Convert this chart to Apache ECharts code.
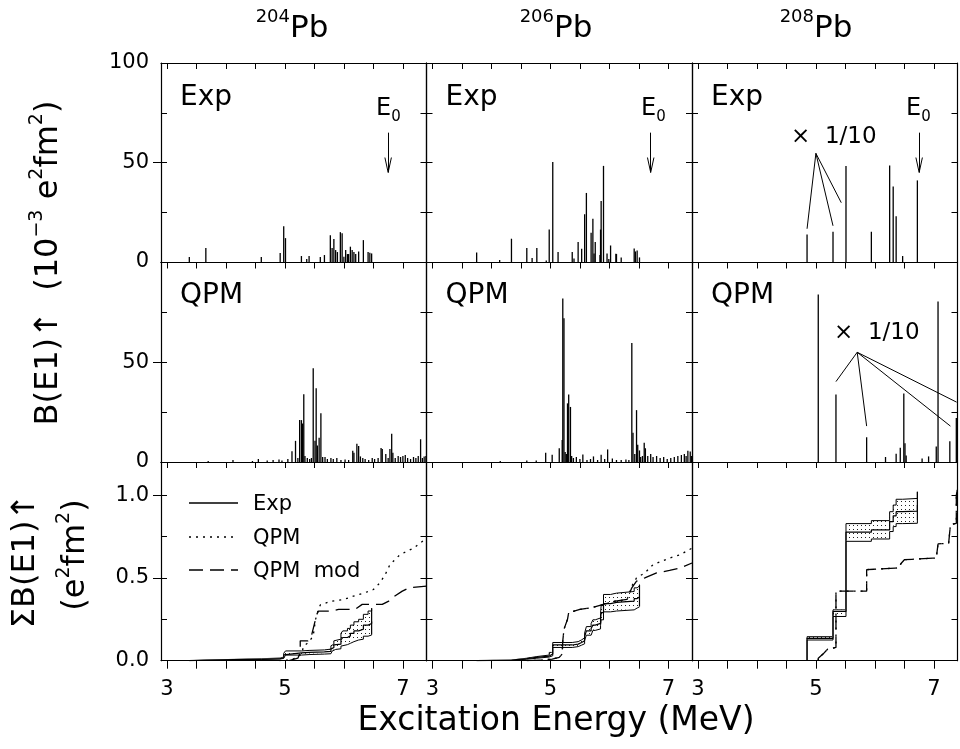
<!DOCTYPE html>
<html><head><meta charset="utf-8">
<script src="https://cdn.jsdelivr.net/npm/echarts@6/dist/echarts.min.js"></script>
<style>html,body{margin:0;padding:0;background:#fff}#c{width:960px;height:749px}</style>
</head><body><div id="c"></div>
<script>
// ---------- tick / label values ----------
const isotopes = ['204', '206', '208'];
const xTickValues = [3, 3.5, 4, 4.5, 5, 5.5, 6, 6.5, 7];
const xLabelValues = [3, 5, 7];
const yTickValuesB = [25, 50, 75];
const yLabelValuesExp = [0, 50, 100];
const yLabelValuesQpm = [0, 50];
const yTickValuesSum = [0.25, 0.5, 0.75, 1.0];
const yLabelValuesSum = [0, 0.5, 1.0];

// ---------- B(E1) spikes, [energy MeV, B(E1) 1e-3 e2fm2] ----------
const exp204 = [[3.38,2.5],[3.66,7],[4.60,2.5],[4.92,4.5],[4.98,18],[5.01,12],[5.28,3],[5.37,1.5],[5.41,3],[5.60,2.5],[5.67,3.5],[5.77,13.5],[5.80,7],[5.83,11.5],[5.86,6],[5.89,5],[5.94,15],[5.97,14.5],[6.00,2.7],[6.03,6],[6.06,4],[6.08,4],[6.11,7.7],[6.14,6],[6.17,5],[6.20,4],[6.25,5.3],[6.33,11],[6.41,5],[6.44,4.7],[6.47,4.3]];
const exp206 = [[3.75,4.8],[4.14,1],[4.34,11.7],[4.60,7],[4.69,2],[4.77,7],[4.93,0.7],[4.98,16.3],[5.04,50.3],[5.13,5],[5.37,5],[5.40,1.7],[5.47,10],[5.53,6.7],[5.58,24],[5.61,34.7],[5.69,14.7],[5.72,21.7],[5.74,4.3],[5.76,10],[5.84,3.5],[5.85,16.3],[5.86,30.7],[5.90,48.3],[5.96,4.3],[5.99,1.5],[6.02,8.3],[6.11,4.2],[6.12,4],[6.20,2.3],[6.42,6.8],[6.44,5.3],[6.47,5.8],[6.51,2.3]];
const exp208 = [[4.85,13.8],[5.29,15.2],[5.51,48.2],[5.94,15.2],[6.25,48.5],[6.31,38],[6.36,23],[6.47,3],[6.72,41]];
const qpm204 = [[3.70,0.5],[4.12,1.0],[4.45,0.5],[4.55,1.5],[4.70,0.8],[4.80,1.0],[4.90,1.2],[4.95,0.8],[5.05,1.5],[5.12,5.4],[5.18,10.6],[5.22,2.0],[5.25,21],[5.28,21],[5.30,19.3],[5.32,34],[5.34,3],[5.38,2],[5.42,1.5],[5.45,2],[5.48,47],[5.51,10.7],[5.53,37],[5.55,8.3],[5.58,12.2],[5.61,24.4],[5.64,2.5],[5.68,2.5],[5.72,1.5],[5.78,2],[5.82,1.5],[5.88,2],[5.95,1],[6.02,1.2],[6.08,1],[6.15,5.6],[6.17,4.6],[6.22,9.2],[6.25,8],[6.28,2.8],[6.32,2],[6.36,1.5],[6.42,1],[6.48,2],[6.52,1.5],[6.58,2],[6.63,7],[6.65,6.5],[6.71,4],[6.75,2],[6.78,6.5],[6.81,14.2],[6.83,4.6],[6.87,2],[6.92,3],[6.96,2.5],[7.00,3],[7.04,3.5],[7.08,2],[7.13,1.5],[7.18,2.5],[7.22,2],[7.26,3],[7.30,11.4],[7.33,2],[7.36,2.8],[7.39,3]];
const qpm206 = [[4.15,0.5],[4.60,0.7],[4.76,0.8],[4.92,4.6],[5.03,3.6],[5.15,6.9],[5.20,11],[5.21,82],[5.23,72],[5.25,5],[5.27,4],[5.29,29.4],[5.31,33.8],[5.34,27.6],[5.36,3],[5.39,2],[5.44,2.5],[5.50,1.5],[5.55,3.8],[5.62,1],[5.68,1.5],[5.73,2.8],[5.80,1],[5.86,3.6],[5.92,1.5],[5.97,6.3],[6.05,1.8],[6.12,1],[6.20,1],[6.28,1.2],[6.33,1],[6.38,59.7],[6.40,14.7],[6.43,4],[6.46,26],[6.48,8.7],[6.51,5.8],[6.53,2.5],[6.56,3],[6.59,9.6],[6.61,6.9],[6.65,3],[6.70,4],[6.74,2.5],[6.80,3],[6.86,2],[6.92,2.5],[6.98,1.5],[7.04,2],[7.10,2.5],[7.16,3],[7.22,3.5],[7.27,4],[7.30,3],[7.33,5.6],[7.37,5.3],[7.39,3]];
const qpm208 = [[5.04,84],[5.34,33.8],[5.86,12.4],[6.18,2.5],[6.36,4.1],[6.43,7.1],[6.49,34.3],[6.51,9.4],[6.53,3.3],[6.80,1.8],[6.91,2.8],[7.04,7.8],[7.07,80.4],[7.27,10.4],[7.38,22]];

// ---------- running sums, [energy MeV, sum e2fm2] ----------
const sumExp204   = [[3.38,0],[3.38,0.003],[3.66,0.01],[4.60,0.013],[4.92,0.018],[4.98,0.035],[5.01,0.047],[5.28,0.05],[5.41,0.053],[5.67,0.056],[5.78,0.07],[5.80,0.08],[5.83,0.095],[5.86,0.10],[5.95,0.125],[5.98,0.14],[6.06,0.15],[6.11,0.165],[6.17,0.18],[6.25,0.19],[6.33,0.215],[6.41,0.225],[6.47,0.236]];
const sumExpHi204 = [[3.38,0],[3.38,0.004],[3.66,0.012],[4.60,0.016],[4.92,0.022],[4.98,0.045],[5.01,0.059],[5.28,0.062],[5.41,0.065],[5.67,0.07],[5.78,0.09],[5.80,0.10],[5.83,0.12],[5.86,0.13],[5.95,0.165],[5.98,0.18],[6.06,0.195],[6.11,0.215],[6.17,0.235],[6.25,0.25],[6.33,0.28],[6.41,0.30],[6.47,0.317]];
const sumExpLo204 = [[3.38,0],[3.38,0.002],[3.66,0.007],[4.60,0.01],[4.92,0.014],[4.98,0.026],[5.01,0.034],[5.28,0.037],[5.41,0.04],[5.67,0.042],[5.78,0.052],[5.80,0.058],[5.83,0.068],[5.86,0.072],[5.95,0.088],[5.98,0.097],[6.06,0.105],[6.11,0.115],[6.17,0.125],[6.25,0.13],[6.33,0.148],[6.41,0.155],[6.47,0.16]];
const sumQpm204    = [[4.90,0],[5.10,0.005],[5.20,0.02],[5.28,0.04],[5.32,0.09],[5.40,0.11],[5.48,0.15],[5.52,0.25],[5.56,0.30],[5.60,0.337],[5.77,0.358],[6.00,0.37],[6.16,0.39],[6.35,0.41],[6.50,0.43],[6.61,0.47],[6.70,0.52],[6.78,0.58],[6.95,0.64],[7.18,0.68],[7.40,0.74]];
const sumQpmMod204 = [[5.07,0],[5.22,0.015],[5.26,0.05],[5.26,0.12],[5.39,0.12],[5.45,0.15],[5.54,0.28],[5.57,0.30],[5.80,0.30],[5.91,0.31],[6.19,0.31],[6.31,0.34],[6.65,0.34],[6.76,0.36],[6.82,0.38],[6.99,0.42],[7.10,0.44],[7.40,0.45]];

const sumExp206   = [[3.75,0],[3.75,0.003],[4.34,0.012],[4.60,0.02],[4.77,0.028],[4.98,0.04],[5.04,0.095],[5.37,0.10],[5.47,0.11],[5.53,0.12],[5.58,0.145],[5.61,0.18],[5.69,0.195],[5.72,0.215],[5.76,0.225],[5.85,0.25],[5.86,0.29],[5.90,0.345],[6.02,0.352],[6.12,0.36],[6.42,0.375],[6.47,0.385],[6.51,0.388]];
const sumExpHi206 = [[3.75,0],[3.75,0.004],[4.34,0.015],[4.60,0.025],[4.77,0.034],[4.98,0.05],[5.04,0.11],[5.37,0.115],[5.47,0.126],[5.53,0.138],[5.58,0.167],[5.61,0.206],[5.69,0.224],[5.72,0.247],[5.76,0.258],[5.85,0.286],[5.86,0.333],[5.90,0.40],[6.02,0.408],[6.12,0.418],[6.42,0.44],[6.47,0.452],[6.51,0.459]];
const sumExpLo206 = [[3.75,0],[3.75,0.002],[4.34,0.009],[4.60,0.015],[4.77,0.022],[4.98,0.03],[5.04,0.08],[5.37,0.085],[5.47,0.094],[5.53,0.102],[5.58,0.123],[5.61,0.154],[5.69,0.166],[5.72,0.183],[5.76,0.192],[5.85,0.214],[5.86,0.247],[5.90,0.295],[6.02,0.30],[6.12,0.307],[6.42,0.318],[6.47,0.325],[6.51,0.327]];
const sumQpm206    = [[4.60,0],[4.90,0.005],[5.03,0.01],[5.15,0.02],[5.20,0.04],[5.21,0.12],[5.23,0.19],[5.29,0.25],[5.31,0.29],[5.34,0.30],[5.50,0.31],[5.70,0.32],[5.90,0.34],[6.10,0.36],[6.30,0.37],[6.38,0.45],[6.46,0.50],[6.60,0.53],[6.74,0.58],[7.02,0.62],[7.20,0.64],[7.40,0.68]];
const sumQpmMod206 = [[4.60,0],[4.90,0.005],[5.03,0.01],[5.15,0.02],[5.20,0.04],[5.21,0.12],[5.23,0.19],[5.29,0.25],[5.31,0.29],[5.34,0.30],[5.50,0.31],[5.70,0.32],[5.90,0.34],[6.10,0.36],[6.30,0.37],[6.38,0.44],[6.46,0.48],[6.60,0.50],[6.80,0.53],[7.02,0.545],[7.20,0.56],[7.40,0.59]];

const sumExp208   = [[4.85,0],[4.85,0.135],[5.29,0.297],[5.51,0.776],[5.94,0.79],[6.25,0.84],[6.31,0.875],[6.36,0.90],[6.47,0.903],[6.72,0.94]];
const sumExpHi208 = [[4.85,0],[4.85,0.145],[5.29,0.307],[5.51,0.828],[5.94,0.846],[6.25,0.90],[6.31,0.94],[6.36,0.975],[6.47,0.98],[6.72,1.02]];
const sumExpLo208 = [[4.85,0],[4.85,0.125],[5.29,0.267],[5.51,0.721],[5.94,0.735],[6.25,0.78],[6.31,0.81],[6.36,0.828],[6.47,0.83],[6.72,0.85]];
const sumQpm208    = [[5.04,0],[5.04,0.015],[5.12,0.04],[5.20,0.07],[5.34,0.08],[5.34,0.42],[5.86,0.42],[5.86,0.55],[6.39,0.56],[6.45,0.59],[6.50,0.61],[7.04,0.62],[7.07,0.62],[7.07,0.705],[7.25,0.71],[7.28,0.71],[7.28,0.82],[7.38,0.83],[7.38,1.0],[7.40,1.04]];
const sumQpmMod208 = sumQpm208;

// ---------- annotations (data coordinates) ----------
const e0Energy = [6.75, 6.70, 6.75];
const e0ArrowFrom = 65, e0ArrowTo = 45;
const scaleHubExp = [5.0, 54.6];
const scaleEndsExp = [[4.85,16.7],[5.29,18.2],[5.43,29.8]];
const scaleHubQpm = [5.70, 55.0];
const scaleEndsQpm = [[5.34,40.3],[5.86,18],[7.28,18],[7.385,30]];

// ---------- layout ----------
const FONT = '"DejaVu Sans", "Liberation Sans", sans-serif';
const colLeft = [161, 426.5, 692], colW = 265.5;
const rowTop = [63, 262.5, 462], rowH = [199, 199.5, 198.7];
const BLACK = '#000';

const expSets = [exp204, exp206, exp208];
const qpmSets = [qpm204, qpm206, qpm208];
const sumSets = [
  {c: sumExp204, hi: sumExpHi204, lo: sumExpLo204, q: sumQpm204, qm: sumQpmMod204},
  {c: sumExp206, hi: sumExpHi206, lo: sumExpLo206, q: sumQpm206, qm: sumQpmMod206},
  {c: sumExp208, hi: sumExpHi208, lo: sumExpLo208, q: sumQpm208, qm: sumQpmMod208}
];

// dotted fill pattern
const pc = document.createElement('canvas'); pc.width = 4; pc.height = 4;
const pctx = pc.getContext('2d'); pctx.fillStyle = '#222'; pctx.fillRect(1, 1, 1, 1);

const grids = [], xAxes = [], yAxes = [], series = [];
const xIdx = [], yIdx = [];
const axisLineStyle = {color: BLACK, width: 1.2};
for (let r = 0; r < 3; r++) {
  for (let c = 0; c < 3; c++) {
    const g = r * 3 + c;
    grids.push({left: colLeft[c], top: rowTop[r], width: colW, height: rowH[r]});
    const yMax = r < 2 ? 100 : 1.2;
    xIdx[g] = xAxes.length;
    xAxes.push({gridIndex: g, type: 'value', min: 2.9, max: 7.4, position: 'bottom', z: 5,
      axisLine: {show: true, onZero: false, lineStyle: axisLineStyle},
      axisTick: {show: r === 2, inside: false, length: 8, customValues: xTickValues, lineStyle: {color: BLACK, width: 1}},
      axisLabel: {show: r === 2, customValues: xLabelValues, margin: 18, fontSize: 21, color: BLACK, fontFamily: FONT},
      splitLine: {show: false}});
    xAxes.push({gridIndex: g, type: 'value', min: 2.9, max: 7.4, position: 'top', z: 5,
      axisLine: {show: true, onZero: false, lineStyle: axisLineStyle},
      axisTick: {show: true, inside: true, length: 6, customValues: xTickValues, lineStyle: {color: BLACK, width: 1}},
      axisLabel: {show: false}, splitLine: {show: false}});
    const ticks = r < 2 ? yTickValuesB : yTickValuesSum;
    const labels = r === 0 ? yLabelValuesExp : (r === 1 ? yLabelValuesQpm : yLabelValuesSum);
    yIdx[g] = yAxes.length;
    yAxes.push({gridIndex: g, type: 'value', min: 0, max: yMax, position: 'left', z: 5,
      axisLine: {show: true, onZero: false, lineStyle: axisLineStyle},
      axisTick: {show: true, inside: true, length: 6, customValues: ticks, lineStyle: {color: BLACK, width: 1}},
      axisLabel: {show: c === 0, customValues: labels, margin: 12, fontSize: 21, color: BLACK, fontFamily: FONT,
        showMinLabel: true, showMaxLabel: true,
        formatter: v => r === 2 ? v.toFixed(1) : String(v)},
      splitLine: {show: false}});
    yAxes.push({gridIndex: g, type: 'value', min: 0, max: yMax, position: 'right', z: 5,
      axisLine: {show: true, onZero: false, lineStyle: axisLineStyle},
      axisTick: {show: true, inside: true, length: 6, customValues: ticks, lineStyle: {color: BLACK, width: 1}},
      axisLabel: {show: false}, splitLine: {show: false}});
    if (c === 0) {
      const major = labels.filter(v => v > 0 && v < yMax);
      yAxes.push({gridIndex: g, type: 'value', min: 0, max: yMax, position: 'left', z: 5,
        axisLine: {show: false, onZero: false},
        axisTick: {show: true, inside: false, length: 8, customValues: major, lineStyle: {color: BLACK, width: 1}},
        axisLabel: {show: false}, splitLine: {show: false}});
    }
  }
}

function seg(a, b) { return [{coord: a}, {coord: b}]; }
function markLines(list) {
  return {silent: true, animation: false, symbol: ['none', 'none'], label: {show: false},
    lineStyle: {type: 'solid', color: BLACK, width: 1}, data: list};
}

// spike panels
for (let r = 0; r < 2; r++) {
  for (let c = 0; c < 3; c++) {
    const g = r * 3 + c;
    const s = {type: 'bar', xAxisIndex: xIdx[g], yAxisIndex: yIdx[g], barWidth: 1.3,
      data: (r === 0 ? expSets : qpmSets)[c], itemStyle: {color: BLACK}, animation: false, silent: true};
    const ml = [];
    if (r === 0) {
      const e = e0Energy[c];
      ml.push(seg([e, e0ArrowFrom], [e, e0ArrowTo]));
      ml.push(seg([e - 0.055, e0ArrowTo + 7.5], [e, e0ArrowTo]));
      ml.push(seg([e + 0.055, e0ArrowTo + 7.5], [e, e0ArrowTo]));
      if (c === 2) scaleEndsExp.forEach(p => ml.push(seg(scaleHubExp, p)));
    }
    if (r === 1 && c === 2) scaleEndsQpm.forEach(p => ml.push(seg(scaleHubQpm, p)));
    if (ml.length) s.markLine = markLines(ml);
    series.push(s);
  }
}

// running-sum panels
for (let c = 0; c < 3; c++) {
  const g = 6 + c, d = sumSets[c];
  const base = {type: 'line', xAxisIndex: xIdx[g], yAxisIndex: yIdx[g], showSymbol: false, symbol: 'none',
    animation: false, silent: true};
  const last = d.c.length - 1;
  // dotted band: upper area with pattern, masked below the lower curve with white
  series.push(Object.assign({}, base, {data: d.hi, step: 'end', z: 1,
    lineStyle: {color: BLACK, width: 1}, areaStyle: {color: {image: pc, repeat: 'repeat'}, opacity: 1}}));
  series.push(Object.assign({}, base, {data: d.lo, step: 'end', z: 1,
    lineStyle: {color: '#fff', width: 2}, areaStyle: {color: '#fff', opacity: 1}}));
  series.push(Object.assign({}, base, {data: [[d.lo[last][0], 0], d.lo[last]], z: 2,
    lineStyle: {color: '#fff', width: 3}}));
  series.push(Object.assign({}, base, {data: d.lo, step: 'end', z: 3,
    lineStyle: {color: BLACK, width: 1}}));
  series.push(Object.assign({}, base, {data: d.c, step: 'end', z: 3,
    lineStyle: {color: BLACK, width: 1.2}}));
  series.push(Object.assign({}, base, {data: [d.lo[last], d.hi[last]], z: 3,
    lineStyle: {color: BLACK, width: 1.2}}));
  series.push(Object.assign({}, base, {data: d.q, z: 4,
    lineStyle: {color: BLACK, width: 1.3, type: [2, 5]}}));
  series.push(Object.assign({}, base, {data: d.qm, z: 4,
    lineStyle: {color: BLACK, width: 1.3, type: [14, 7]}}));
}

// ---------- text ----------
const graphics = [];
function txt(x, y, text, size) {
  graphics.push({type: 'text', x: x, y: y, silent: true,
    style: {text: text, font: size + 'px ' + FONT, fill: BLACK, align: 'left', verticalAlign: 'middle'}});
}
const headerX = [292, 556, 816];
isotopes.forEach((iso, c) => {
  graphics.push({type: 'text', x: headerX[c], y: 26, silent: true,
    style: {text: '{s|' + iso + '}{b|Pb}', align: 'center', verticalAlign: 'middle', fill: BLACK,
      rich: {s: {fontSize: 18, fontFamily: FONT, lineHeight: 18, verticalAlign: 'top'},
             b: {fontSize: 31, fontFamily: FONT, lineHeight: 36, verticalAlign: 'bottom'}}}});
  txt(colLeft[c] + 19, 98, 'Exp', 28);
  txt(colLeft[c] + 19, 296, 'QPM', 28);
  const ex = [376, 641, 906][c];
  graphics.push({type: 'text', x: ex, y: 111, silent: true,
    style: {text: '{e|E}{z|0}', align: 'left', verticalAlign: 'middle', fill: BLACK,
      rich: {e: {fontSize: 24, fontFamily: FONT, lineHeight: 28, verticalAlign: 'top'},
             z: {fontSize: 15, fontFamily: FONT, lineHeight: 15, verticalAlign: 'bottom'}}}});
});
txt(791, 137, '×  1/10', 23);
txt(834, 333, '×  1/10', 23);

// legend
const legendY = [503, 537, 570];
const legendDash = [null, [2, 5], [14, 7]];
const legendText = ['Exp', 'QPM', 'QPM  mod'];
legendY.forEach((y, i) => {
  graphics.push({type: 'line', silent: true, shape: {x1: 189, y1: y, x2: 238, y2: y},
    style: {stroke: BLACK, lineWidth: 1.3, lineDash: legendDash[i]}});
  txt(253, y + 2, legendText[i], 21);
});

// axis titles
graphics.push({type: 'text', x: 46, y: 263, rotation: Math.PI / 2, silent: true,
  style: {text: '{m|B(E1)↑  (10}{s|−3}{m| e}{s|2}{m|fm}{s|2}{m|)}', align: 'center', verticalAlign: 'middle', fill: BLACK,
    rich: {m: {fontSize: 32, fontFamily: FONT, lineHeight: 37, verticalAlign: 'bottom'},
           s: {fontSize: 19, fontFamily: FONT, lineHeight: 19, verticalAlign: 'top'}}}});
graphics.push({type: 'text', x: 26, y: 561, rotation: Math.PI / 2, silent: true,
  style: {text: 'ΣB(E1)↑', align: 'center', verticalAlign: 'middle', fill: BLACK, font: '32px ' + FONT}});
graphics.push({type: 'text', x: 73, y: 555, rotation: Math.PI / 2, silent: true,
  style: {text: '{m|(e}{s|2}{m|fm}{s|2}{m|)}', align: 'center', verticalAlign: 'middle', fill: BLACK,
    rich: {m: {fontSize: 32, fontFamily: FONT, lineHeight: 37, verticalAlign: 'bottom'},
           s: {fontSize: 19, fontFamily: FONT, lineHeight: 19, verticalAlign: 'top'}}}});
graphics.push({type: 'text', x: 556, y: 721, silent: true,
  style: {text: 'Excitation Energy (MeV)', align: 'center', verticalAlign: 'middle', fill: BLACK, font: '33px ' + FONT}});

const chart = echarts.init(document.getElementById('c'), null, {renderer: 'canvas'});
chart.setOption({
  animation: false,
  backgroundColor: '#fff',
  grid: grids, xAxis: xAxes, yAxis: yAxes, series: series, graphic: graphics
});
</script>
</body></html>
